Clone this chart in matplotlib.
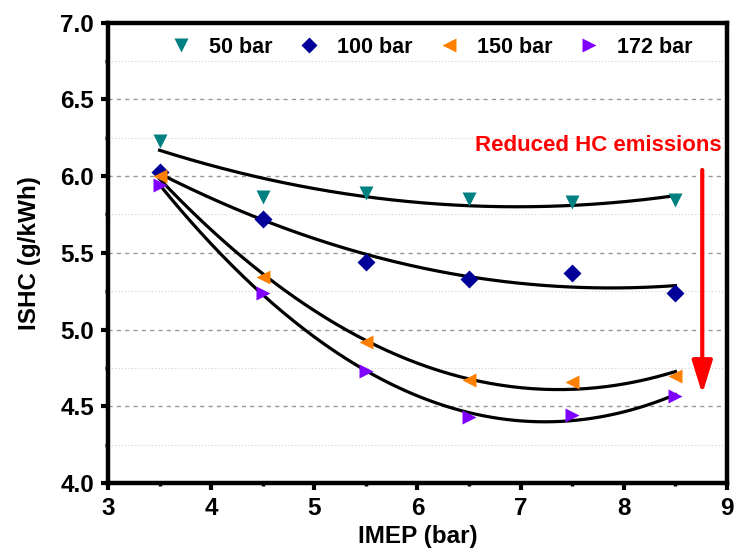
import matplotlib
matplotlib.use("Agg")
import matplotlib.pyplot as plt
import numpy as np
from matplotlib.ticker import MultipleLocator

plt.rcParams['font.family'] = ['Liberation Sans', 'DejaVu Sans']
plt.rcParams['font.weight'] = 'bold'

imep = np.array([3.5, 4.5, 5.5, 6.5, 7.5, 8.5])
ishc_50 = np.array([6.23, 5.865, 5.89, 5.85, 5.83, 5.845])
ishc_100 = np.array([6.03, 5.72, 5.44, 5.33, 5.37, 5.24])
ishc_150 = np.array([6.00, 5.34, 4.92, 4.67, 4.66, 4.70])
ishc_172 = np.array([5.94, 5.24, 4.73, 4.43, 4.44, 4.565])

labels = ['50 bar', '100 bar', '150 bar', '172 bar']
colors = ['#008080', '#000099', '#FF8000', '#8000FF']
markers = ['v', 'D', '<', '>']
series = [ishc_50, ishc_100, ishc_150, ishc_172]

fig = plt.figure(figsize=(7.36, 5.6), dpi=100)
ax = fig.add_axes([0.1467, 0.1375, 0.8411, 0.822])

# grid first so it sits under the data
ax.set_axisbelow(True)
ax.yaxis.set_major_locator(MultipleLocator(0.5))
ax.yaxis.set_minor_locator(MultipleLocator(0.25))
ax.xaxis.set_major_locator(MultipleLocator(1))
ax.xaxis.set_minor_locator(MultipleLocator(0.5))
ax.grid(axis='y', which='major', ls=(0, (3, 3)), color='#999999', lw=1.0)
ax.grid(axis='y', which='minor', ls=(0, (1, 2)), color='#d0d0d0', lw=0.8)

xf = np.linspace(imep[0], imep[-1], 200)
for y, c, m, lab in zip(series, colors, markers, labels):
    coef = np.polyfit(imep, y, 2)
    ax.plot(xf, np.polyval(coef, xf), color='black', lw=2.3, zorder=2)
    ms = 9.5 if m == 'D' else 10.5
    ax.plot(imep, y, ls='none', marker=m, color=c, ms=ms, mec='none',
            label=lab, zorder=3)

ax.set_xlim(3, 9)
ax.set_ylim(4.0, 7.0)
ax.yaxis.set_major_formatter(matplotlib.ticker.FormatStrFormatter('%.1f'))

for s in ax.spines.values():
    s.set_linewidth(3.2)
ax.tick_params(which='major', direction='out', length=5, width=3, labelsize=17.5, pad=5)
ax.tick_params(which='minor', direction='out', length=2.5, width=2.5)

ax.set_xlabel('IMEP (bar)', fontsize=17.5, fontweight='bold', labelpad=4)
ax.set_ylabel('ISHC (g/kWh)', fontsize=17.5, fontweight='bold', labelpad=14)

leg = ax.legend(loc='center', bbox_to_anchor=(0.523, 0.947), ncol=4, frameon=False,
                fontsize=15.5, handletextpad=0.8, columnspacing=1.2, markerscale=0.9,
                handlelength=1.0)

ax.text(8.95, 6.2, 'Reduced HC emissions', color='red', fontsize=16,
        fontweight='bold', ha='right', va='center')
ax.annotate('', xy=(8.76, 4.58), xytext=(8.76, 6.04),
            arrowprops=dict(arrowstyle='-|>,head_width=0.62,head_length=2.0',
                            mutation_scale=10, lw=3, color='red',
                            shrinkA=0, shrinkB=0))

fig.savefig('out.png', dpi=100)
